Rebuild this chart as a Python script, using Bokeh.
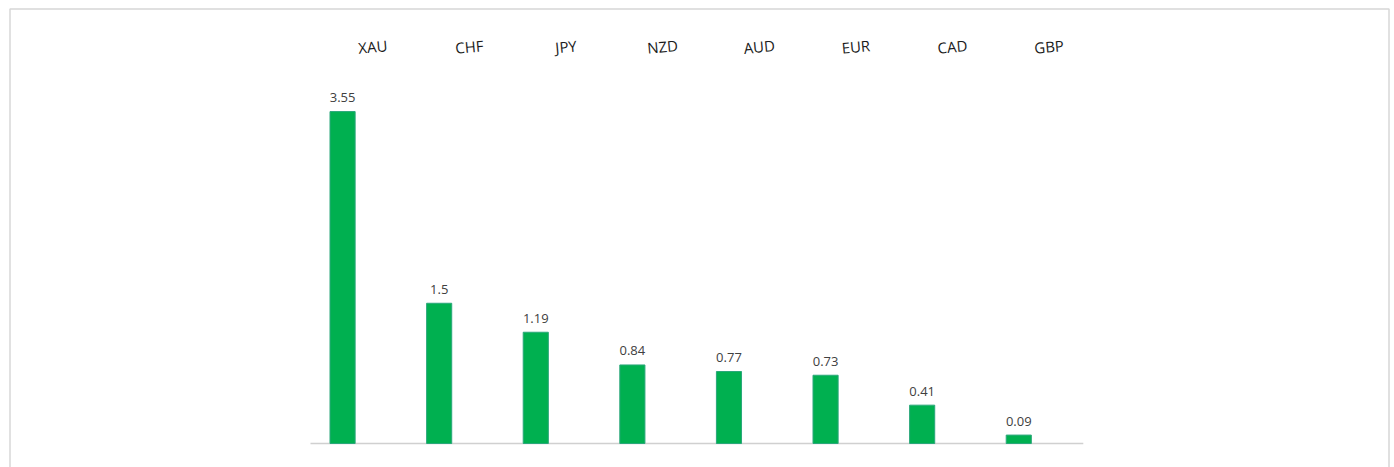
from bokeh.plotting import figure
from bokeh.models import Range1d, BoxAnnotation, ColumnDataSource
from bokeh.transform import dodge
from bokeh.core.properties import value
from bokeh.embed import file_html
from bokeh.resources import INLINE

# ---- data ----
currencies = ["XAU", "CHF", "JPY", "NZD", "AUD", "EUR", "CAD", "GBP"]
changes = [3.55, 1.5, 1.19, 0.84, 0.77, 0.73, 0.41, 0.09]
value_labels = ["3.55", "1.5", "1.19", "0.84", "0.77", "0.73", "0.41", "0.09"]

# ---- layout (pixels) ----
W, H = 1394, 467
px_x = 96.6          # pixels per category
px_y = 93.5          # pixels per unit
left_px = 310        # canvas x of first category's left edge
base_px = 443        # canvas y of baseline
label_px = 46        # canvas y of category labels
bar_shift = -0.168   # bars sit left of category centre
label_dx = 14        # category labels sit right of category centre (px)
bl, bt, br = 9.5, 8.5, 1388.5   # border lines (canvas px)

n = len(currencies)
xs = list(range(n))
x_start = -0.5 - left_px / px_x
x_end = x_start + W / px_x
y_end = base_px / px_y
y_start = y_end - H / px_y

p = figure(width=W, height=H, output_backend="svg", toolbar_location=None,
           x_range=Range1d(x_start, x_end), y_range=Range1d(y_start, y_end),
           min_border=0, min_border_left=0, min_border_right=0,
           min_border_top=0, min_border_bottom=0)
p.axis.visible = False
p.grid.visible = False
p.outline_line_color = None
p.background_fill_color = "white"
p.border_fill_color = "white"

src = ColumnDataSource(dict(x=xs, top=changes, lab=value_labels, cur=currencies,
                            ly=[(base_px - label_px) / px_y] * n))

# baseline
p.line(x=[-0.5, n - 0.5], y=[0, 0], line_color="#d0d0d0", line_width=1.5)

p.vbar(x=dodge("x", bar_shift), top="top", bottom=0, width=0.26, source=src,
       fill_color="#00B050", line_color="#2aa77a", line_width=1)

p.text(x=dodge("x", bar_shift), y="top", text="lab", source=src, text_align="center",
       text_baseline="middle", y_offset=-14, text_font=value("Open Sans"),
       text_font_size="13px", text_color="#404040")

p.text(x="x", y="ly", text="cur", source=src, text_align="center",
       text_baseline="middle", x_offset=label_dx, angle=0.09,
       text_font=value("Open Sans"), text_font_size="15px", text_color="#1a1a1a")

# chart border (left, top, right)
p.add_layout(BoxAnnotation(left=x_start + bl / px_x, right=x_start + br / px_x,
                           top=y_end - bt / px_y, bottom=y_start - 1,
                           fill_alpha=0, line_color="#7a7a7a", line_width=1.5))

open("out.html", "w").write(file_html(p, INLINE))
